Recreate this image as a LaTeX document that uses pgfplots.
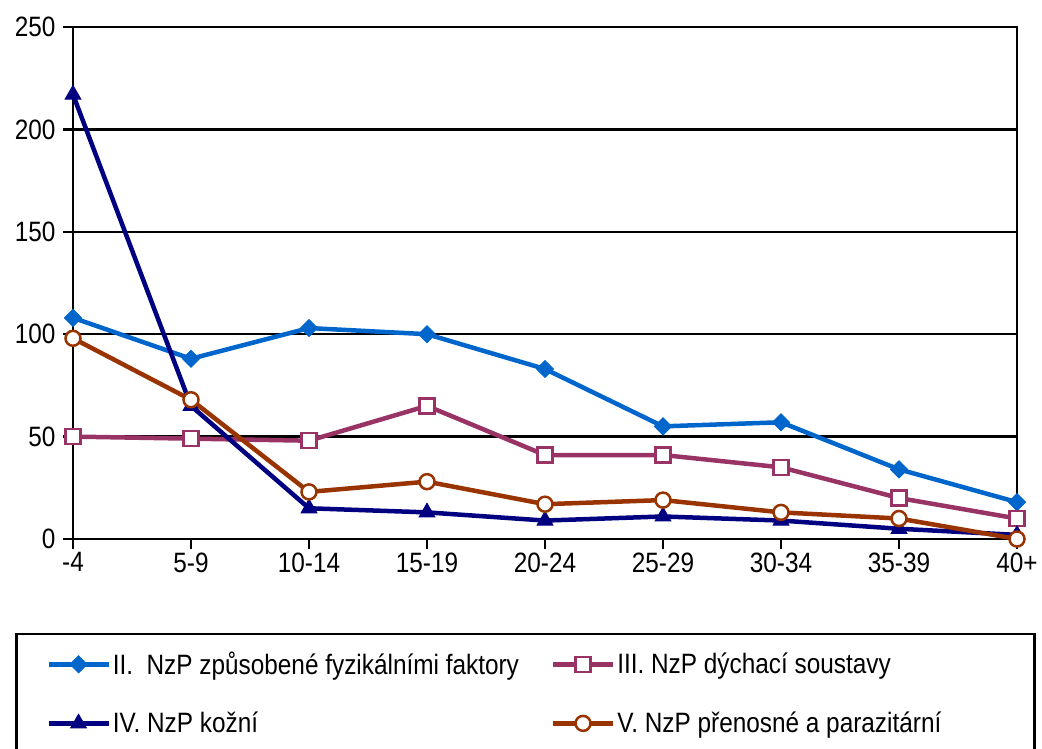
\documentclass[border=0pt]{standalone}
\usepackage{fontspec}
\setmainfont{Liberation Sans}[FakeStretch=0.87]
\usepackage{pgfplots}
\pgfplotsset{compat=1.18}
\definecolor{cII}{HTML}{0066CC}
\definecolor{cIII}{HTML}{993366}
\definecolor{cIV}{HTML}{000080}
\definecolor{cV}{HTML}{993300}
\begin{document}
\begin{tikzpicture}[font=\fontsize{28}{34}\selectfont]
\useasboundingbox (-73pt,-210pt) rectangle (969pt,539pt);
\begin{axis}[
  scale only axis, width=944pt, height=512pt,
  at={(0pt,0pt)}, anchor=south west,
  xmin=0, xmax=8, ymin=0, ymax=250,
  xtick={0,1,2,3,4,5,6,7,8},
  xticklabels={-4,5-9,10-14,15-19,20-24,25-29,30-34,35-39,40+},
  ytick={0,50,100,150,200,250},
  ymajorgrids,
  grid style={black, line width=2.5pt},
  axis line style={black, line width=2.5pt},
  tick style={black, line width=2.5pt},
  tick align=outside, major tick length=10pt,
  tick pos=left,
  tick label style={font=\fontsize{28}{34}\selectfont},
  yticklabel style={xshift=-4pt},
  /pgf/number format/assume math mode=true,
  clip=false,
  legend columns=2,
  legend cell align=left,
  legend image code/.code={\draw[mark repeat=2,mark phase=2,#1] plot coordinates {(0pt,0pt) (30pt,0pt) (60pt,0pt)};},
  legend style={at={(-0.0614,-0.1836)}, anchor=north west, draw=black, line width=2.5pt,
    font=\fontsize{28}{34}\selectfont, inner xsep=30pt, inner ysep=16pt,
    row sep=32pt,
    /tikz/every even column/.append style={column sep=26pt}},
]
\addplot[cII, line width=4.5pt, mark=square*, mark size=6pt, mark options={rotate=45, line width=1pt}]
  coordinates {(0,108) (1,88) (2,103) (3,100) (4,83) (5,55) (6,57) (7,34) (8,18)};
\addlegendentry{\makebox[410pt][l]{II.\ \ NzP způsobené fyzikálními faktory}}
\addplot[cIII, line width=4.5pt, mark=square*, mark size=7.5pt, mark options={fill=white, line width=2.5pt}]
  coordinates {(0,50) (1,49) (2,48) (3,65) (4,41) (5,41) (6,35) (7,20) (8,10)};
\addlegendentry{\makebox[385pt][l]{III. NzP dýchací soustavy}}
\addplot[cIV, line width=4.5pt, mark=triangle*, mark size=9pt, mark options={line width=1pt}]
  coordinates {(0,217) (1,65) (2,15) (3,13) (4,9) (5,11) (6,9) (7,5) (8,2)};
\addlegendentry{\makebox[410pt][l]{IV. NzP kožní}}
\addplot[cV, line width=4.5pt, mark=*, mark size=7.5pt, mark options={fill=white, line width=2.5pt}]
  coordinates {(0,98) (1,68) (2,23) (3,28) (4,17) (5,19) (6,13) (7,10) (8,0)};
\addlegendentry{\makebox[385pt][l]{V. NzP přenosné a parazitární}}
\end{axis}
\end{tikzpicture}
\end{document}
